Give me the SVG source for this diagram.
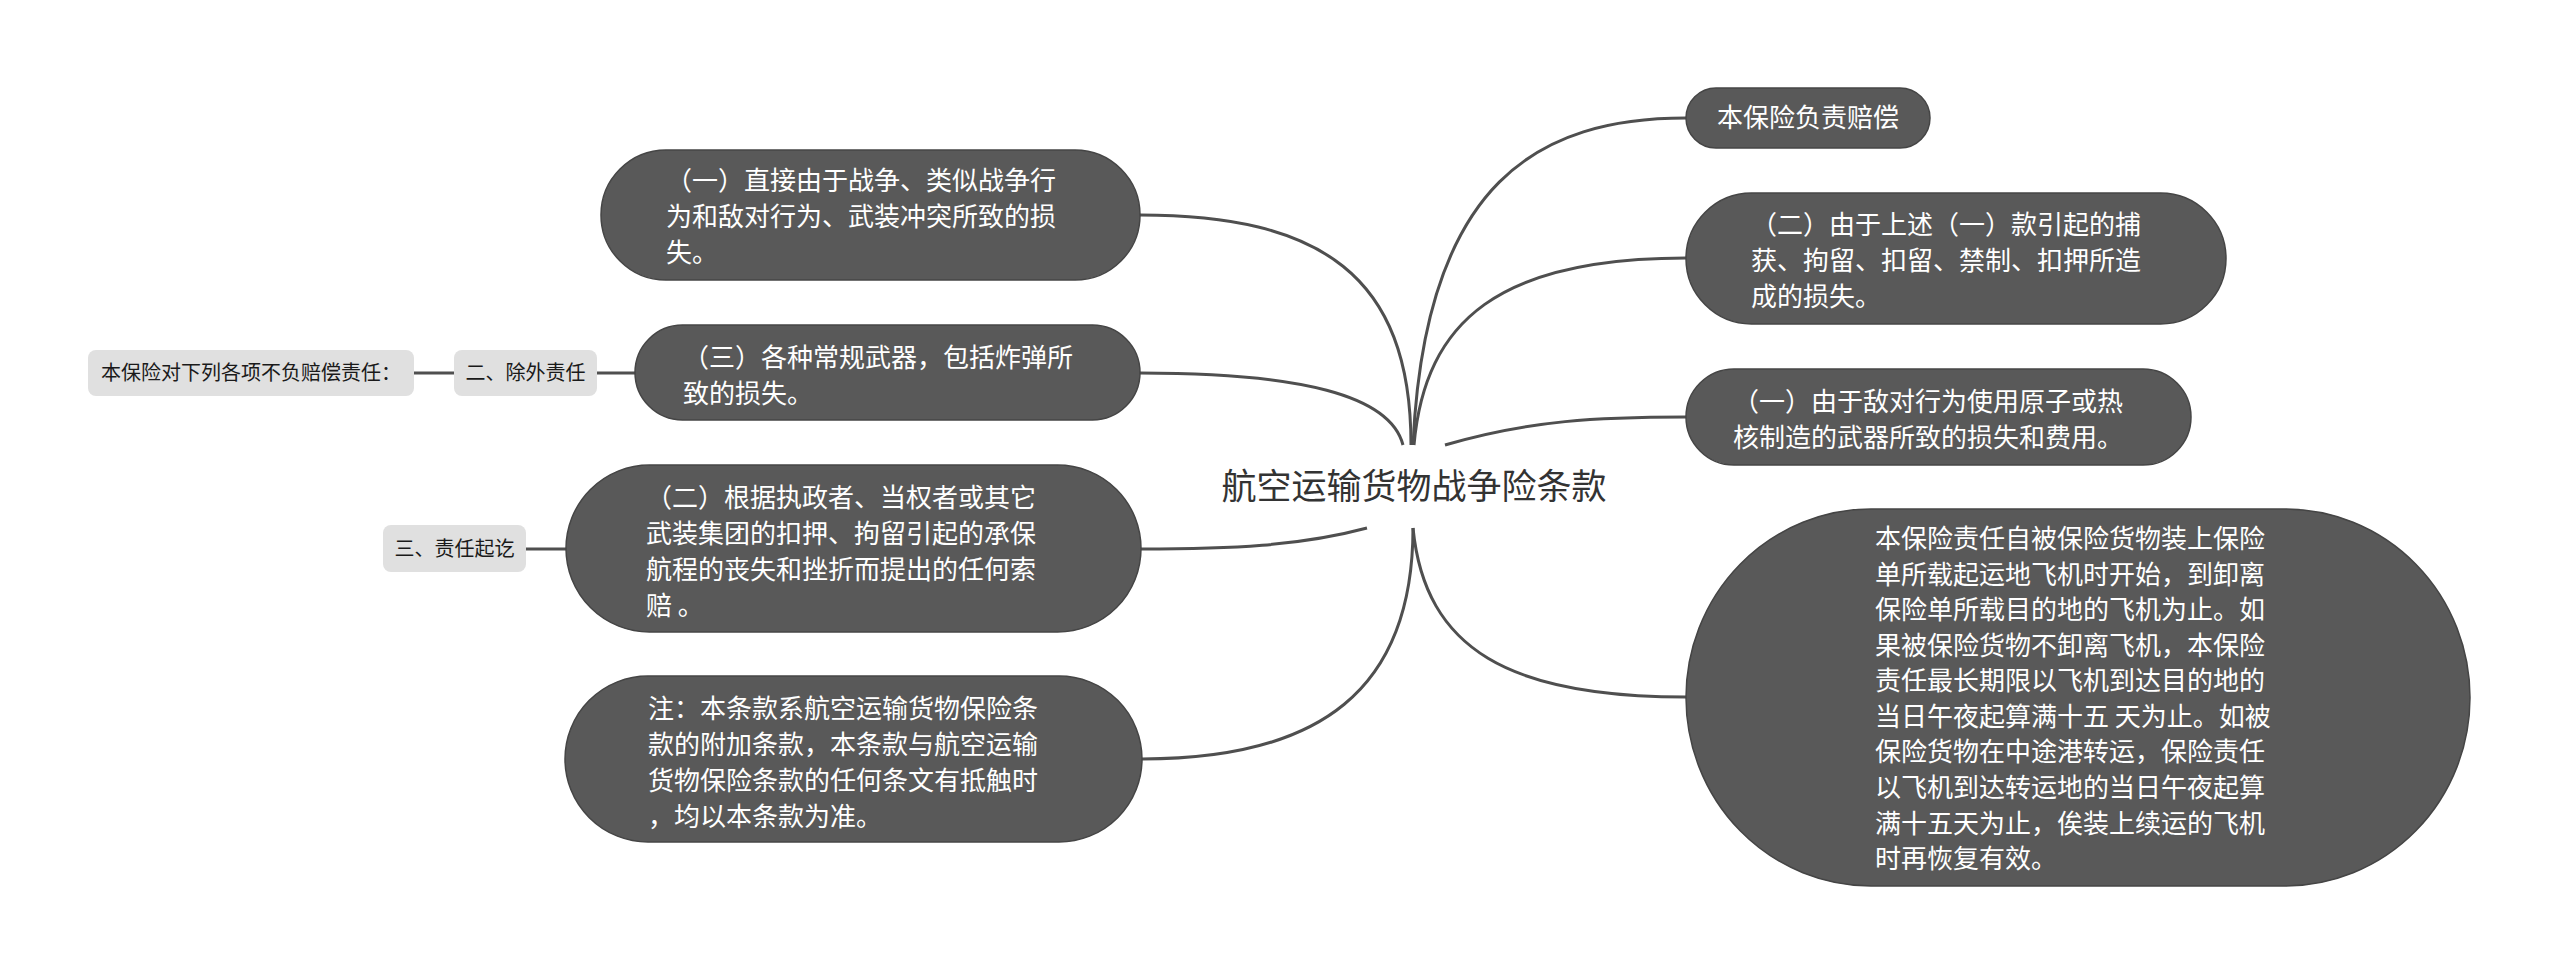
<svg xmlns="http://www.w3.org/2000/svg" width="2560" height="974" viewBox="0 0 2560 974">
<style>
.t{font-family:"Noto Sans CJK SC","Noto Sans",sans-serif;}
.dark rect{fill:#595959;stroke:#454545;stroke-width:1.5;}
.dark text{fill:#ffffff;font-size:26px;}
.light rect{fill:#e0e0e0;stroke:none;}
.light text{fill:#1a1a1a;font-size:20px;text-anchor:middle;}
.conn path{fill:none;stroke:#4f4f4f;stroke-width:3;}
</style>
<rect width="2560" height="974" fill="#ffffff"/>
<g class="conn" id="connectors">
<path d="M1411,445 C1411,275 1320,215 1140,215"/>
<path d="M1403,445 C1390,395 1300,373 1140,373"/>
<path d="M1367,528 C1300,546 1230,549 1141,549"/>
<path d="M1413,528 C1413,690 1320,759 1142,759"/>
<path d="M1413,445 C1425,180 1540,118 1686,118"/>
<path d="M1414,445 C1425,320 1500,258 1686,258"/>
<path d="M1445,445 C1530,420 1600,417 1686,417"/>
<path d="M1413,528 C1425,650 1510,697 1686,697"/>
<path d="M414,373 L454,373"/>
<path d="M597,373 L635,373"/>
<path d="M526,549 L566,549"/>
</g>
<g id="root" class="t">
<text x="1414" y="499" font-size="35" fill="#333333" text-anchor="middle">航空运输货物战争险条款</text>
</g>
<g id="nodeA" class="dark t">
<rect x="601" y="150" width="539" height="130" rx="65"/>
<text x="666" y="190">（一）直接由于战争、类似战争行</text>
<text x="666" y="226">为和敌对行为、武装冲突所致的损</text>
<text x="666" y="262">失。</text>
</g>
<g id="nodeC" class="dark t">
<rect x="635" y="325" width="505" height="95" rx="47.5"/>
<text x="683" y="367">（三）各种常规武器，包括炸弹所</text>
<text x="683" y="403">致的损失。</text>
</g>
<g id="nodeD" class="dark t">
<rect x="566" y="465" width="575" height="167" rx="83.5"/>
<text x="646" y="507">（二）根据执政者、当权者或其它</text>
<text x="646" y="543">武装集团的扣押、拘留引起的承保</text>
<text x="646" y="579">航程的丧失和挫折而提出的任何索</text>
<text x="646" y="615">赔 。</text>
</g>
<g id="nodeE" class="dark t">
<rect x="565" y="676" width="577" height="166" rx="83"/>
<text x="648" y="718">注：本条款系航空运输货物保险条</text>
<text x="648" y="754">款的附加条款，本条款与航空运输</text>
<text x="648" y="790">货物保险条款的任何条文有抵触时</text>
<text x="648" y="826">，均以本条款为准。</text>
</g>
<g id="nodeF" class="dark t">
<rect x="1686" y="88" width="244" height="60" rx="30"/>
<text x="1808" y="127" text-anchor="middle">本保险负责赔偿</text>
</g>
<g id="nodeG" class="dark t">
<rect x="1686" y="193" width="540" height="131" rx="65.5"/>
<text x="1751" y="234">（二）由于上述（一）款引起的捕</text>
<text x="1751" y="270">获、拘留、扣留、禁制、扣押所造</text>
<text x="1751" y="306">成的损失。</text>
</g>
<g id="nodeH" class="dark t">
<rect x="1686" y="369" width="505" height="96" rx="48"/>
<text x="1733" y="411">（一）由于敌对行为使用原子或热</text>
<text x="1733" y="447">核制造的武器所致的损失和费用。</text>
</g>
<g id="nodeI" class="dark t">
<rect x="1686" y="509" width="784" height="377" rx="185" ry="188.5"/>
<text x="1875" y="548">本保险责任自被保险货物装上保险</text>
<text x="1875" y="584">单所载起运地飞机时开始，到卸离</text>
<text x="1875" y="619">保险单所载目的地的飞机为止。如</text>
<text x="1875" y="655">果被保险货物不卸离飞机，本保险</text>
<text x="1875" y="690">责任最长期限以飞机到达目的地的</text>
<text x="1875" y="726">当日午夜起算满十五 天为止。如被</text>
<text x="1875" y="761">保险货物在中途港转运，保险责任</text>
<text x="1875" y="797">以飞机到达转运地的当日午夜起算</text>
<text x="1875" y="833">满十五天为止，俟装上续运的飞机</text>
<text x="1875" y="868">时再恢复有效。</text>
</g>
<g id="nodeExcl" class="light t">
<rect x="454" y="350" width="143" height="46" rx="8"/>
<text x="525.5" y="380">二、除外责任</text>
</g>
<g id="nodeExclNote" class="light t">
<rect x="88" y="350" width="326" height="46" rx="8"/>
<text x="251" y="380">本保险对下列各项不负赔偿责任：</text>
</g>
<g id="nodeTerm" class="light t">
<rect x="383" y="525" width="143" height="47" rx="8"/>
<text x="454.5" y="556">三、责任起讫</text>
</g>
</svg>
